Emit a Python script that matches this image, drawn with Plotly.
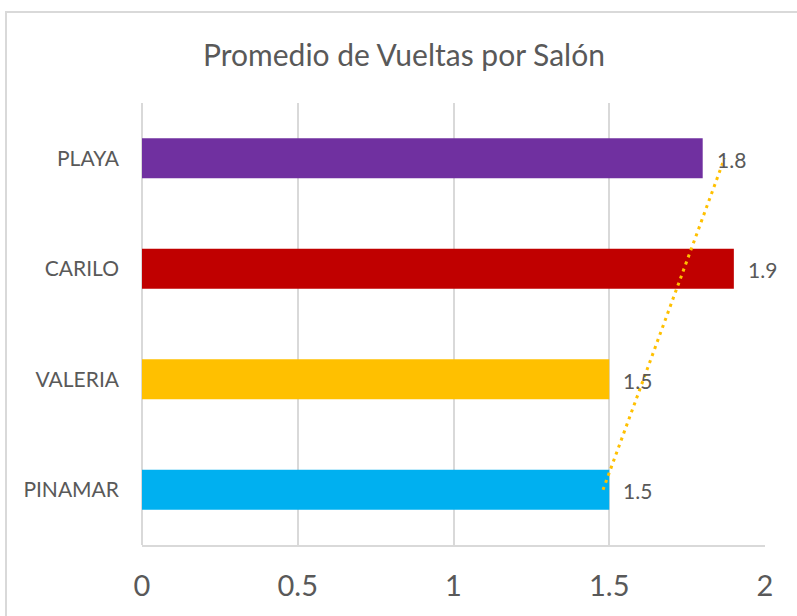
import numpy as np
import plotly.graph_objects as go

# ---- data ----
categories = ["PINAMAR", "VALERIA", "CARILO", "PLAYA"]
values = [1.5, 1.5, 1.9, 1.8]
bar_colors = ["#00B0F0", "#FFC000", "#C00000", "#7030A0"]
x_ticks = [0, 0.5, 1, 1.5, 2]
x_tick_labels = ["0", "0.5", "1", "1.5", "2"]
title_text = "Promedio de Vueltas por Salón"

# linear trendline (Excel-style) over the category index
idx = np.arange(1, len(values) + 1)
slope, intercept = np.polyfit(idx, values, 1)
trend_x = [slope * idx[0] + intercept, slope * idx[-1] + intercept]
trend_y = [categories[0], categories[-1]]

W, H = 797, 616
L, R, T, B = 142, 32, 103, 71
pw, ph = W - L - R, H - T - B

TEXT = "#595959"
GRID = "#D9D9D9"
FONT = "Lato"

fig = go.Figure()
fig.add_trace(go.Bar(
    x=values, y=categories, orientation="h",
    marker=dict(color=bar_colors, line=dict(width=0)),
    showlegend=False, hoverinfo="x+y",
))
fig.add_trace(go.Scatter(
    x=trend_x, y=trend_y, mode="lines",
    line=dict(color="#FFC000", width=3, dash="3px,4.5px"),
    showlegend=False, hoverinfo="skip",
))

annotations = []
for c, v in zip(categories, values):
    annotations.append(dict(
        x=v, y=c, xref="x", yref="y", text=f"{v:g}", showarrow=False,
        xanchor="left", yanchor="middle", xshift=12, yshift=-1,
        font=dict(family=FONT, size=21, color=TEXT),
    ))

fig.update_layout(
    width=W, height=H,
    margin=dict(l=L, r=R, t=T, b=B),
    paper_bgcolor="white", plot_bgcolor="white",
    bargap=0.638,
    title=dict(text=title_text, x=404 / W, xref="container", xanchor="center",
               y=1 - 55 / H, yref="container", yanchor="middle",
               font=dict(family=FONT, size=30, color=TEXT)),
    xaxis=dict(range=[0, 2], tickvals=x_ticks, ticktext=x_tick_labels,
               showgrid=True, gridcolor=GRID, gridwidth=1.5,
               zeroline=True, zerolinecolor=GRID, zerolinewidth=1.5,
               showline=True, linecolor=GRID, linewidth=1.5,
               ticks="", ticklabelstandoff=14,
               tickfont=dict(family=FONT, size=29, color=TEXT),
               fixedrange=True),
    yaxis=dict(categoryorder="array", categoryarray=categories,
               showgrid=False, zeroline=False, showline=False, ticks="",
               ticklabelstandoff=22,
               tickfont=dict(family=FONT, size=21, color=TEXT),
               fixedrange=True),
    annotations=annotations,
    shapes=[dict(type="rect", xref="paper", yref="paper",
                 x0=(6 - L) / pw, x1=(820 - L) / pw,
                 y0=(H - B - 12) / ph, y1=(H - B - 640) / ph,
                 line=dict(color=GRID, width=2), fillcolor="rgba(0,0,0,0)",
                 layer="below")],
)

fig.write_html(
    "out.html",
    config={"displayModeBar": False},
    post_script="document.body.style.margin='0';document.body.style.overflow='hidden';",
)
